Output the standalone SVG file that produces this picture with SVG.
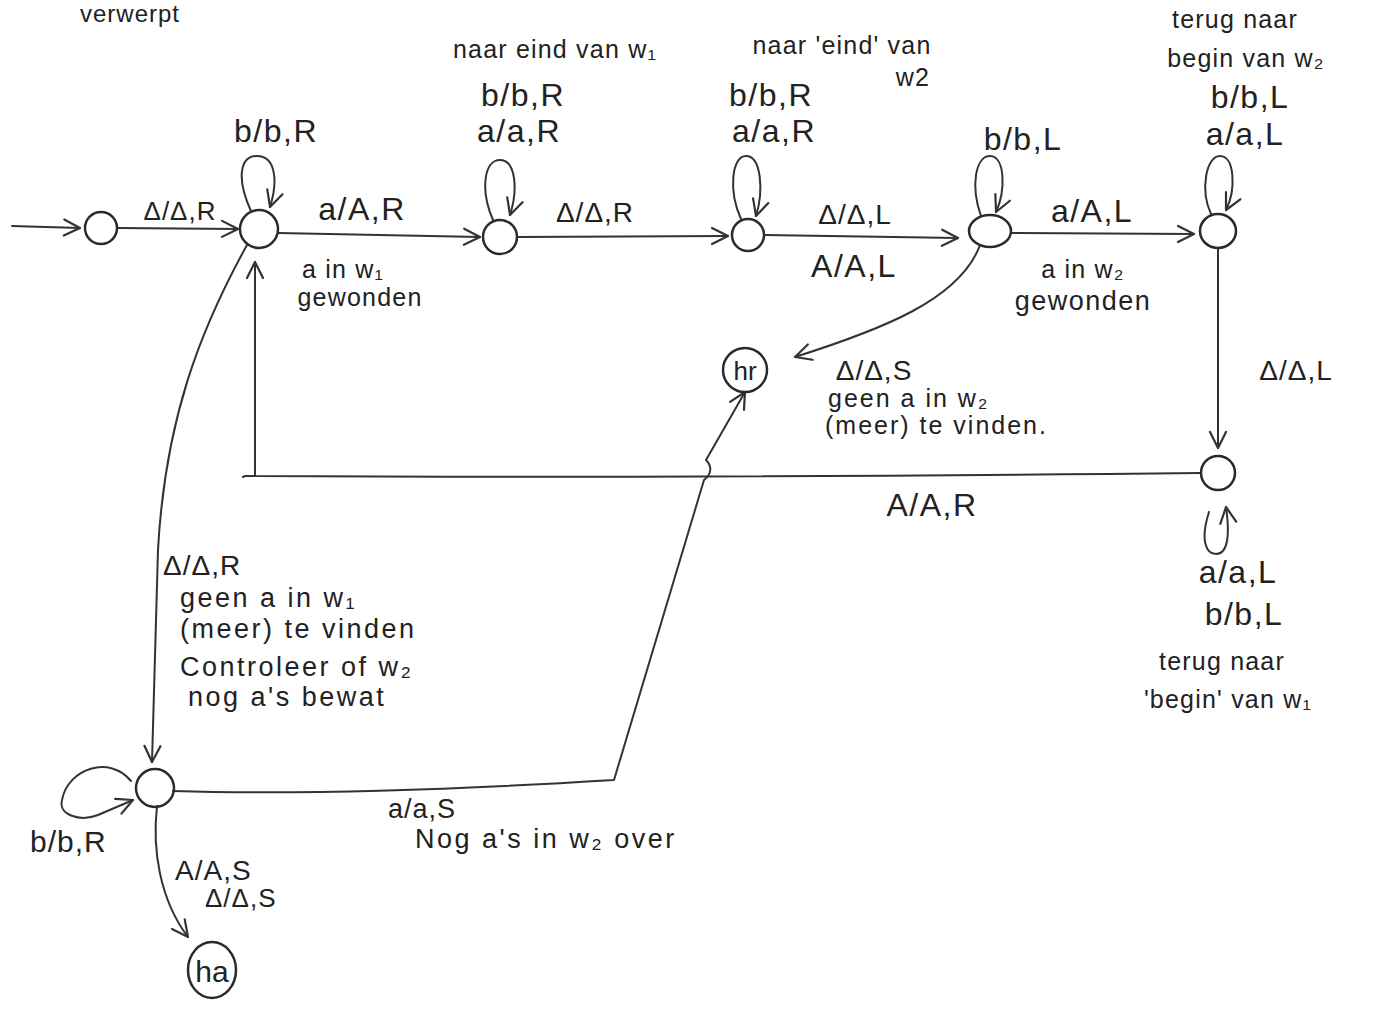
<svg xmlns="http://www.w3.org/2000/svg" width="1383" height="1011" viewBox="0 0 1383 1011">
<defs>
<style>
.st{fill:none;stroke:#2a2a2a;stroke-width:2.5}
.e{fill:none;stroke:#333;stroke-width:2;stroke-linecap:round;stroke-linejoin:round}
text{font-family:"Liberation Sans","DejaVu Sans",sans-serif;fill:#222}
.lb{font-size:32px;letter-spacing:1.5px}
.sm{font-size:25px;letter-spacing:1.2px}
.nt{font-size:27px;letter-spacing:2.5px}
.ct{text-anchor:middle}
</style>
<marker id="ah" viewBox="0 0 20 20" refX="18" refY="10" markerWidth="20" markerHeight="20" markerUnits="userSpaceOnUse" orient="auto">
<path d="M2,2 L18,10 L2,18" fill="none" stroke="#333" stroke-width="2.2" stroke-linecap="round" stroke-linejoin="round"/>
</marker>
</defs>
<rect width="1383" height="1011" fill="#fff"/>

<text x="80" y="22" style="font-size:24px;letter-spacing:1px">verwerpt</text>

<g id="connectors">
<path class="e" d="M12,226 L80,228" marker-end="url(#ah)"/>
<path class="e" d="M117,228 L238,229" marker-end="url(#ah)"/>
<path class="e" d="M251,211 C236,178 240,156 257,156 C276,156 278,182 270,207" marker-end="url(#ah)"/>
<path class="e" d="M278,233 L480,237" marker-end="url(#ah)"/>
<path class="e" d="M493,220 C480,190 484,160 500,160 C516,160 518,190 510,215" marker-end="url(#ah)"/>
<path class="e" d="M518,237 L728,236" marker-end="url(#ah)"/>
<path class="e" d="M741,219 C728,190 732,156 746,156 C761,156 764,190 756,216" marker-end="url(#ah)"/>
<path class="e" d="M764,235 L958,238" marker-end="url(#ah)"/>
<path class="e" d="M981,216 C970,185 976,156 990,156 C1005,156 1006,190 996,212" marker-end="url(#ah)"/>
<path class="e" d="M1011,233 L1194,234" marker-end="url(#ah)"/>
<path class="e" d="M1211,214 C1200,190 1206,156 1220,156 C1235,156 1236,190 1226,210" marker-end="url(#ah)"/>
<path class="e" d="M1218,248 L1218,448" marker-end="url(#ah)"/>
<path class="e" d="M1209,512 C1200,540 1206,554 1216,554 C1228,554 1230,535 1226,507" marker-end="url(#ah)"/>
<path class="e" d="M1201,473 C900,476 600,478 245,476 L243,477 M255,476 L255,262" marker-end="url(#ah)"/>
<path class="e" d="M980,245 C960,300 880,330 795,357" marker-end="url(#ah)"/>
<path class="e" d="M247,245 C200,330 165,420 158,550 L152,762" marker-end="url(#ah)"/>
<path class="e" d="M131,781 C110,755 68,768 62,800 C58,815 80,822 98,815 L133,800" marker-end="url(#ah)"/>
<path class="e" d="M173,791 C300,795 450,790 614,780 L704,480 C712,474 712,466 706,460 L745,392" marker-end="url(#ah)"/>
<path class="e" d="M157,806 C152,850 160,900 188,937" marker-end="url(#ah)"/>
</g>

<g id="q0"><circle class="st" cx="101" cy="228" r="16"/></g>
<g id="q1"><circle class="st" cx="259" cy="229" r="19"/></g>
<g id="q2"><circle class="st" cx="500" cy="237" r="17"/></g>
<g id="q3"><circle class="st" cx="748" cy="235" r="16"/></g>
<g id="q4"><ellipse class="st" cx="990" cy="231" rx="21" ry="16"/></g>
<g id="q5"><ellipse class="st" cx="1218" cy="231" rx="18" ry="17"/></g>
<g id="q6"><circle class="st" cx="1218" cy="473" r="17"/></g>
<g id="q7"><circle class="st" cx="155" cy="788" r="19"/></g>
<g id="hr"><circle class="st" cx="745" cy="370" r="22"/><text x="745" y="380" class="ct" style="font-size:26px">hr</text></g>
<g id="ha"><ellipse class="st" cx="212" cy="970" rx="24" ry="28"/><text x="212" y="982" class="ct" style="font-size:30px">ha</text></g>

<g id="labels">
<text x="180" y="220" class="ct" style="font-size:26px;letter-spacing:1px">Δ/Δ,R</text>
<text x="276" y="142" class="lb ct">b/b,R</text>
<text x="362" y="220" class="lb ct">a/A,R</text>
<text x="343" y="278" class="sm ct">a in w₁</text>
<text x="360" y="306" class="sm ct">gewonden</text>

<text x="555" y="58" class="sm ct">naar eind van w₁</text>
<text x="523" y="106" class="lb ct">b/b,R</text>
<text x="519" y="142" class="lb ct">a/a,R</text>
<text x="595" y="222" class="ct" style="font-size:28px;letter-spacing:1px">Δ/Δ,R</text>

<text x="842" y="54" class="sm ct">naar 'eind' van</text>
<text x="913" y="86" class="sm ct">w2</text>
<text x="771" y="106" class="lb ct">b/b,R</text>
<text x="774" y="142" class="lb ct">a/a,R</text>
<text x="855" y="224" class="ct" style="font-size:28px;letter-spacing:1px">Δ/Δ,L</text>
<text x="854" y="277" class="lb ct">A/A,L</text>

<text x="1023" y="150" class="lb ct">b/b,L</text>
<text x="1092" y="222" class="lb ct">a/A,L</text>
<text x="1083" y="278" class="sm ct">a in w₂</text>
<text x="1083" y="310" class="ct" style="font-size:27px;letter-spacing:1.5px">gewonden</text>

<text x="1235" y="28" class="sm ct">terug naar</text>
<text x="1246" y="67" class="sm ct">begin van w₂</text>
<text x="1250" y="108" class="lb ct">b/b,L</text>
<text x="1245" y="145" class="lb ct">a/a,L</text>
<text x="1296" y="380" class="ct" style="font-size:28px;letter-spacing:1px">Δ/Δ,L</text>

<text x="874" y="380" class="ct" style="font-size:28px;letter-spacing:1px">Δ/Δ,S</text>
<text x="828" y="407" class="sm" style="letter-spacing:2px">geen a in w₂</text>
<text x="825" y="434" class="sm" style="letter-spacing:2px">(meer) te vinden.</text>

<text x="932" y="516" class="lb ct">A/A,R</text>
<text x="1238" y="583" class="lb ct">a/a,L</text>
<text x="1244" y="625" class="lb ct">b/b,L</text>
<text x="1222" y="670" class="sm ct">terug naar</text>
<text x="1228" y="708" class="sm ct">'begin' van w₁</text>

<text x="163" y="575" style="font-size:28px;letter-spacing:1px">Δ/Δ,R</text>
<text x="180" y="607" class="nt">geen a in w₁</text>
<text x="180" y="638" class="nt">(meer) te vinden</text>
<text x="180" y="676" class="nt">Controleer of w₂</text>
<text x="188" y="706" class="nt">nog a's bewat</text>

<text x="30" y="852" style="font-size:30px;letter-spacing:1px">b/b,R</text>
<text x="388" y="818" style="font-size:27px;letter-spacing:1px">a/a,S</text>
<text x="415" y="848" class="nt">Nog a's in w₂ over</text>
<text x="175" y="880" style="font-size:28px;letter-spacing:1px">A/A,S</text>
<text x="205" y="907" style="font-size:26px;letter-spacing:1px">Δ/Δ,S</text>
</g>
</svg>
